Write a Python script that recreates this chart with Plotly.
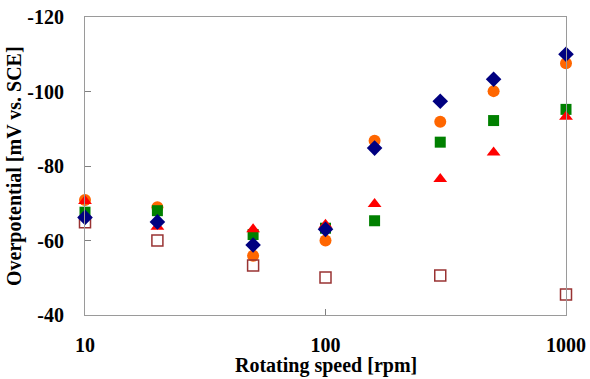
import plotly.graph_objects as go

speed_all = [10, 20, 50, 100, 160, 300, 500, 1000]
speed_open = [10, 20, 50, 100, 300, 1000]

navy_diamond = [-66.2, -65.0, -58.8, -63.0, -84.8, -97.4, -103.3, -110.0]
orange_circle = [-70.9, -68.9, -55.9, -60.0, -86.8, -91.9, -100.1, -107.6]
green_square = [-67.6, -68.0, -61.6, -63.3, -65.3, -86.4, -92.2, -95.2]
red_triangle = [-70.6, -63.7, -63.0, -64.2, -69.8, -76.5, -83.6, -93.2]
open_square = [-64.9, -60.0, -53.3, -50.1, -50.6, -45.5]

y_ticks = [-120, -100, -80, -60, -40]
y_tick_labels = ["-120", "-100", "-80", "-60", "-40"]
x_ticks = [10, 100, 1000]
x_tick_labels = ["10", "100", "1000"]
x_title = "Rotating speed [rpm]"
y_title = "Overpotential [mV vs. SCE]"

fig = go.Figure()

def add(x, y, symbol, color, size, line_color=None, line_width=0):
    fig.add_trace(go.Scatter(
        x=x, y=y, mode="markers", cliponaxis=False, showlegend=False,
        marker=dict(symbol=symbol, color=color, size=size,
                    line=dict(color=line_color or color, width=line_width))))

add(speed_all, orange_circle, "circle", "#FF6600", 12)
add(speed_all, green_square, "square", "#008000", 11)
add(speed_all, red_triangle, "triangle-up", "#FF0000", 12)
add(speed_open, open_square, "square-open", "#993333", 11, "#993333", 1.5)
add(speed_all, navy_diamond, "diamond", "#000080", 12)

bold = dict(family="Liberation Serif", size=20, color="black", weight="bold")

fig.update_layout(
    width=590, height=379,
    margin=dict(l=85, r=24, t=17, b=64, autoexpand=False),
    paper_bgcolor="white", plot_bgcolor="white",
    font=bold,
    xaxis=dict(
        type="log", range=[1, 3], automargin=False,
        tickvals=x_ticks, ticktext=x_tick_labels,
        ticks="inside", ticklen=6, tickcolor="#808080",
        showline=True, linecolor="#9a9a9a", linewidth=1, mirror=True,
        showgrid=False, zeroline=False,
        ticklabelstandoff=12, ticklabeloverflow="allow",
        tickfont=bold,
    ),
    yaxis=dict(
        range=[-40, -120], automargin=False,
        tickvals=y_ticks, ticktext=y_tick_labels,
        ticks="inside", ticklen=6, tickcolor="#808080",
        showline=True, linecolor="#9a9a9a", linewidth=1, mirror=True,
        showgrid=False, zeroline=False,
        ticklabelstandoff=16, ticklabeloverflow="allow",
        tickfont=bold,
    ),
    annotations=[
        dict(text=x_title, xref="paper", yref="paper", x=0.5, y=0,
             xanchor="center", yanchor="middle", yshift=-50,
             showarrow=False, font=bold),
        dict(text=y_title, xref="paper", yref="paper", x=0, y=0.5,
             xanchor="center", yanchor="middle", xshift=-71, textangle=-90,
             showarrow=False, font=bold),
    ],
)

# remove the default 8px page margin so the figure fills the window exactly
fig.write_html("out.html", config={"displayModeBar": False},
               post_script="document.body.style.margin='0';document.body.style.overflow='hidden';")
